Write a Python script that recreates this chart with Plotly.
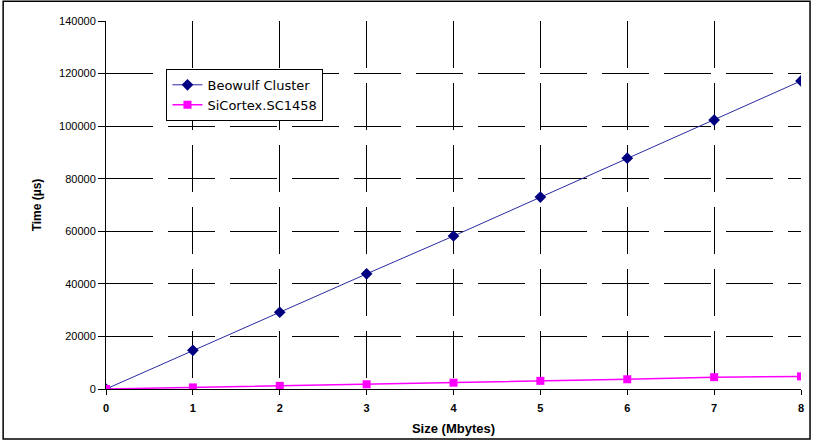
import plotly.graph_objects as go

sizes = [0, 1, 2, 3, 4, 5, 6, 7, 8]
beowulf = [0, 14700, 29200, 43800, 58200, 73000, 87800, 102300, 117200]
sicortex = [0, 600, 1200, 1800, 2400, 3100, 3700, 4500, 4800]

fig = go.Figure()
fig.add_trace(go.Scatter(
    x=sizes, y=beowulf, mode="lines+markers", name="Beowulf Cluster",
    line=dict(color="#2a2aa0", width=1),
    marker=dict(symbol="diamond", size=9, color="#000080"),
))
fig.add_trace(go.Scatter(
    x=sizes, y=sicortex, mode="lines+markers", name="SiCortex.SC1458",
    line=dict(color="#FF00FF", width=1.5),
    marker=dict(symbol="square", size=8, color="#FF00FF"),
))

fig.update_layout(
    width=814, height=444,
    margin=dict(l=106, r=10, t=21, b=55),
    paper_bgcolor="white", plot_bgcolor="white",
    font=dict(family="Liberation Sans, Arial, sans-serif", color="black"),
    showlegend=True,
    legend=dict(
        x=0.087, y=0.87, xanchor="left", yanchor="top",
        bgcolor="white", bordercolor="black", borderwidth=1,
        font=dict(size=13, family="DejaVu Sans, sans-serif"),
        tracegroupgap=0, itemwidth=30,
    ),
    shapes=[dict(type="rect", xref="paper", yref="paper",
                 x0=-0.148, x1=1.013, y0=-0.136, y1=1.054,
                 line=dict(color="black", width=1.5))],
)
fig.update_xaxes(
    range=[0, 8], tickmode="linear", dtick=1,
    showline=True, linecolor="black", linewidth=1,
    ticks="outside", ticklen=5, tickcolor="black",
    showgrid=True, gridcolor="black", gridwidth=1, griddash="47px,15px",
    zeroline=False,
    tickfont=dict(size=11),
    ticklabelstandoff=4,
    title=dict(text="<b>Size (Mbytes)</b>", font=dict(size=13), standoff=10),
    tickprefix="<b>", ticksuffix="</b>",
)
fig.update_yaxes(
    range=[0, 140000], tickmode="linear", dtick=20000,
    showline=True, linecolor="black", linewidth=1,
    ticks="outside", ticklen=7, tickcolor="black",
    showgrid=True, gridcolor="black", gridwidth=1, griddash="47px,15px",
    zeroline=False, tickformat="d",
    tickfont=dict(size=11),
    title=dict(text="<b>Time (µs)</b>", font=dict(size=12), standoff=14),
)

fig.write_html("out.html", config={"displayModeBar": False},
               post_script="document.body.style.margin='0';document.body.style.overflow='hidden';")
